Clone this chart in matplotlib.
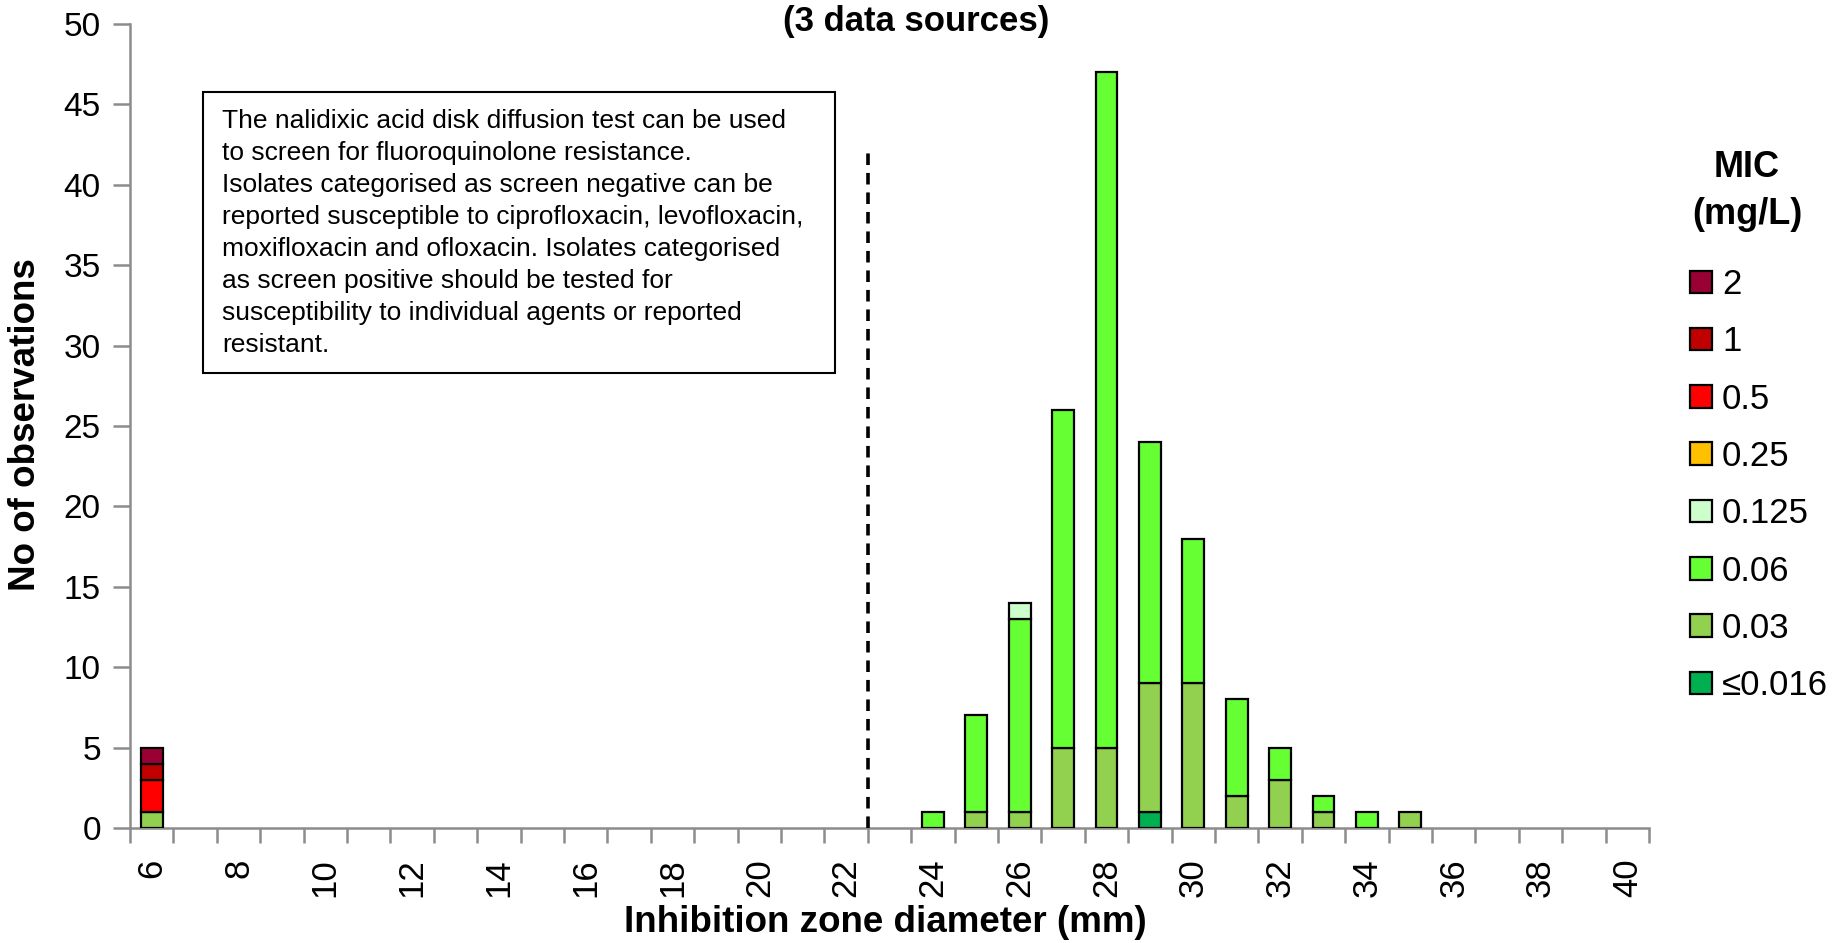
import matplotlib.pyplot as plt
from matplotlib.patches import Rectangle
import numpy as np

plt.rcParams['font.family'] = ['Liberation Sans', 'DejaVu Sans']

# inhibition zone diameters (mm), one category per mm
zones = list(range(6, 41))

# MIC classes, bottom of the stack first
mic_labels = ["\u22640.016", "0.03", "0.06", "0.125", "0.25", "0.5", "1", "2"]
mic_colors = ["#00B050", "#92D050", "#66FF33", "#CCFFCC", "#FFC000", "#FF0000", "#C00000", "#990033"]

# counts per diameter for each MIC class
counts = {
    "\u22640.016": {29: 1},
    "0.03": {6: 1, 25: 1, 26: 1, 27: 5, 28: 5, 29: 8, 30: 9, 31: 2, 32: 3, 33: 1, 35: 1},
    "0.06": {24: 1, 25: 6, 26: 12, 27: 21, 28: 42, 29: 15, 30: 9, 31: 6, 32: 2, 33: 1, 34: 1},
    "0.125": {26: 1},
    "0.25": {},
    "0.5": {6: 2},
    "1": {6: 1},
    "2": {6: 1},
}

screen_breakpoint = 22.5
box_text = ("The nalidixic acid disk diffusion test can be used\n"
            "to screen for fluoroquinolone resistance.\n"
            "Isolates categorised as screen negative can be\n"
            "reported susceptible to ciprofloxacin, levofloxacin,\n"
            "moxifloxacin and ofloxacin. Isolates categorised\n"
            "as screen positive should be tested for\n"
            "susceptibility to individual agents or reported\n"
            "resistant.")

W, H = 1847, 943
fig = plt.figure(figsize=(W / 100, H / 100), dpi=100)
ax = fig.add_axes([130 / W, 1 - 828 / H, (1649 - 130) / W, (828 - 24) / H])

x = np.arange(len(zones))
bottom = np.zeros(len(zones))
handles = []
for lab, col in zip(mic_labels, mic_colors):
    vals = np.array([counts[lab].get(z, 0) for z in zones], dtype=float)
    nz = vals > 0
    # empty classes still need a legend entry
    ax.bar(x[nz], vals[nz], width=0.5, bottom=bottom[nz], color=col,
           edgecolor="black", linewidth=1.6, zorder=3)
    handles.append(Rectangle((0, 0), 1, 1, facecolor=col, edgecolor="black", linewidth=1.6))
    bottom += vals

# screening breakpoint
bx = zones.index(int(screen_breakpoint)) + (screen_breakpoint - int(screen_breakpoint))
ax.plot([bx, bx], [0, 42], color="black", linestyle=(0, (3.2, 2.2)), linewidth=2.6, zorder=4)

ax.set_xlim(-0.5, len(zones) - 0.5)
ax.set_ylim(0, 50)
ax.set_yticks(range(0, 51, 5))
ax.set_xticks([i for i, z in enumerate(zones) if z % 2 == 0])
ax.set_xticklabels([str(z) for z in zones if z % 2 == 0], rotation=90)
ax.set_xticks(np.arange(-0.5, len(zones), 1.0), minor=True)

for s in ["top", "right"]:
    ax.spines[s].set_visible(False)
for s in ["left", "bottom"]:
    ax.spines[s].set_color("#8C8C8C")
    ax.spines[s].set_linewidth(1.8)

ax.tick_params(axis="y", length=12, width=1.8, color="#8C8C8C", labelsize=24, pad=9)
ax.tick_params(axis="x", which="major", length=0, labelsize=25, pad=22)
ax.tick_params(axis="x", which="minor", length=11, width=1.8, color="#8C8C8C")

fig.text(26 / W, 1 - 425 / H, "No of observations", rotation=90, fontsize=26.5,
         fontweight="bold", ha="center", va="center")
fig.text(885 / W, 1 - 923 / H, "Inhibition zone diameter (mm)", fontsize=26.5,
         fontweight="bold", ha="center", va="center")
fig.text(916 / W, 1 - 21 / H, "(3 data sources)", fontsize=25,
         fontweight="bold", ha="center", va="center")

# note box
fig.patches.append(Rectangle((203 / W, 1 - 373 / H), (835 - 203) / W, (373 - 92) / H,
                             transform=fig.transFigure, facecolor="white",
                             edgecolor="black", linewidth=1.5, zorder=5))
fig.text(222 / W, 1 - 109 / H, box_text, fontsize=19, ha="left", va="top",
         linespacing=1.42, zorder=6)

# legend, top class first
fig.text(1747 / W, 1 - 167 / H, "MIC", fontsize=26, fontweight="bold", ha="center", va="center")
fig.text(1747 / W, 1 - 214 / H, "(mg/L)", fontsize=26, fontweight="bold", ha="center", va="center")
ax.legend(handles[::-1], mic_labels[::-1], loc="upper left",
          bbox_to_anchor=(1690 / W, 1 - 268 / H), bbox_transform=fig.transFigure,
          frameon=False, fontsize=25, handlelength=0.62, handleheight=0.62,
          handletextpad=0.3, labelspacing=0.70, borderaxespad=0, borderpad=0)

fig.savefig("out.png", dpi=100)
